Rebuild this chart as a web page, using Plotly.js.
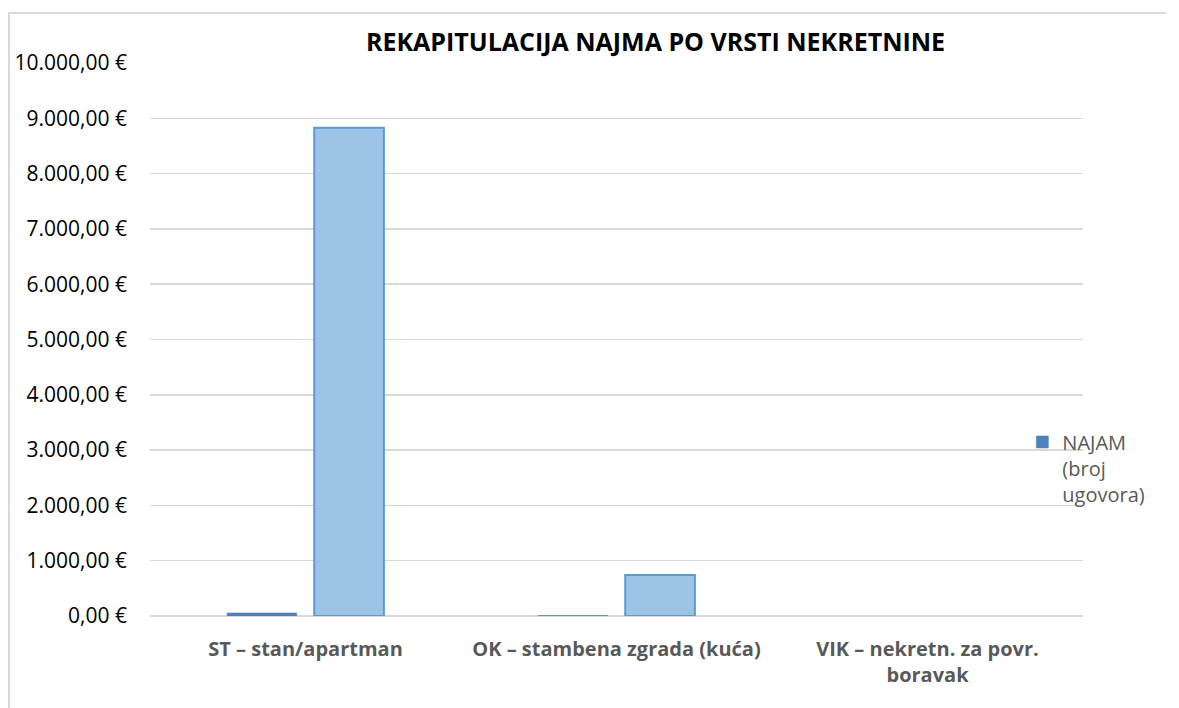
<!DOCTYPE html>
<html>
<head>
<meta charset="utf-8">
<script src="https://cdn.plot.ly/plotly-3.0.1.min.js"></script>
<style>
  html, body { margin: 0; padding: 0; background: #fff; }
  #wrap { position: relative; width: 1179px; height: 708px; overflow: hidden; }
  #frame { position: absolute; left: 8px; top: 12px; width: 1156px; height: 720px;
           border-left: 2px solid #d9d9d9; border-top: 2px solid #d9d9d9; pointer-events: none; }
  #chart { position: absolute; left: 0; top: 0; width: 1179px; height: 708px; }
</style>
</head>
<body>
<div id="wrap">
  <div id="chart"></div>
  <div id="frame"></div>
</div>
<script>
const categories = ['ST – stan/apartman', 'OK – stambena zgrada (kuća)', 'VIK – nekretn. za povr.<br>boravak'];
const najamBrojUgovora = [55, 8, 0];
const iznosNajma = [8830, 741, 0];
const yTickValues = [0, 1000, 2000, 3000, 4000, 5000, 6000, 7000, 8000, 9000, 10000];
const yTickLabels = ['0,00 €', '1.000,00 €', '2.000,00 €', '3.000,00 €', '4.000,00 €', '5.000,00 €',
                     '6.000,00 €', '7.000,00 €', '8.000,00 €', '9.000,00 €', '10.000,00 €'];

const traces = [
  {
    type: 'bar', x: categories, y: najamBrojUgovora,
    name: 'NAJAM<br>(broj<br>ugovora)',
    marker: { color: '#4f81bd', line: { color: '#4a7ebb', width: najamBrojUgovora.map(v => v > 0 ? 0.5 : 0) } },
    hoverinfo: 'x+y'
  },
  {
    type: 'bar', x: categories, y: iznosNajma,
    name: 'Iznos najma', showlegend: false,
    marker: { color: '#9dc3e6', line: { color: '#5b9bd5', width: iznosNajma.map(v => v > 0 ? 2 : 0) } },
    hoverinfo: 'x+y'
  }
];

const layout = {
  width: 1179, height: 708,
  margin: { l: 150, r: 96, t: 63, b: 92 },
  paper_bgcolor: 'rgba(0,0,0,0)', plot_bgcolor: '#fff',
  barmode: 'group', bargap: 0.44, bargroupgap: 0.2,
  title: {
    text: '<b>REKAPITULACIJA NAJMA PO VRSTI NEKRETNINE</b>',
    font: { family: 'Open Sans, sans-serif', size: 25, color: '#000' },
    x: 0.556, xanchor: 'center', xref: 'container',
    y: 0.941, yanchor: 'middle', yref: 'container'
  },
  xaxis: {
    type: 'category', showgrid: false, zeroline: false,
    showline: false, ticks: '',
    tickfont: { family: 'Open Sans, sans-serif', size: 20, color: '#595959', weight: 'bold' },
    ticklabelstandoff: 19
  },
  yaxis: {
    range: [0, 10000], tickvals: yTickValues, ticktext: yTickLabels,
    showgrid: true, gridcolor: '#d9d9d9', gridwidth: 1.5,
    zeroline: true, zerolinecolor: '#d9d9d9', zerolinewidth: 1.5,
    showline: false, ticks: '',
    tickfont: { family: 'Open Sans, sans-serif', size: 21, color: '#000' },
    ticklabelstandoff: 22
  },
  showlegend: true,
  legend: {
    x: 0.935, xanchor: 'left', y: 0.35, yanchor: 'top',
    valign: 'top',
    font: { family: 'Open Sans, sans-serif', size: 20, color: '#595959' },
    bgcolor: 'rgba(0,0,0,0)'
  }
};

Plotly.newPlot('chart', traces, layout, { displayModeBar: false, staticPlot: true });
</script>
</body>
</html>
